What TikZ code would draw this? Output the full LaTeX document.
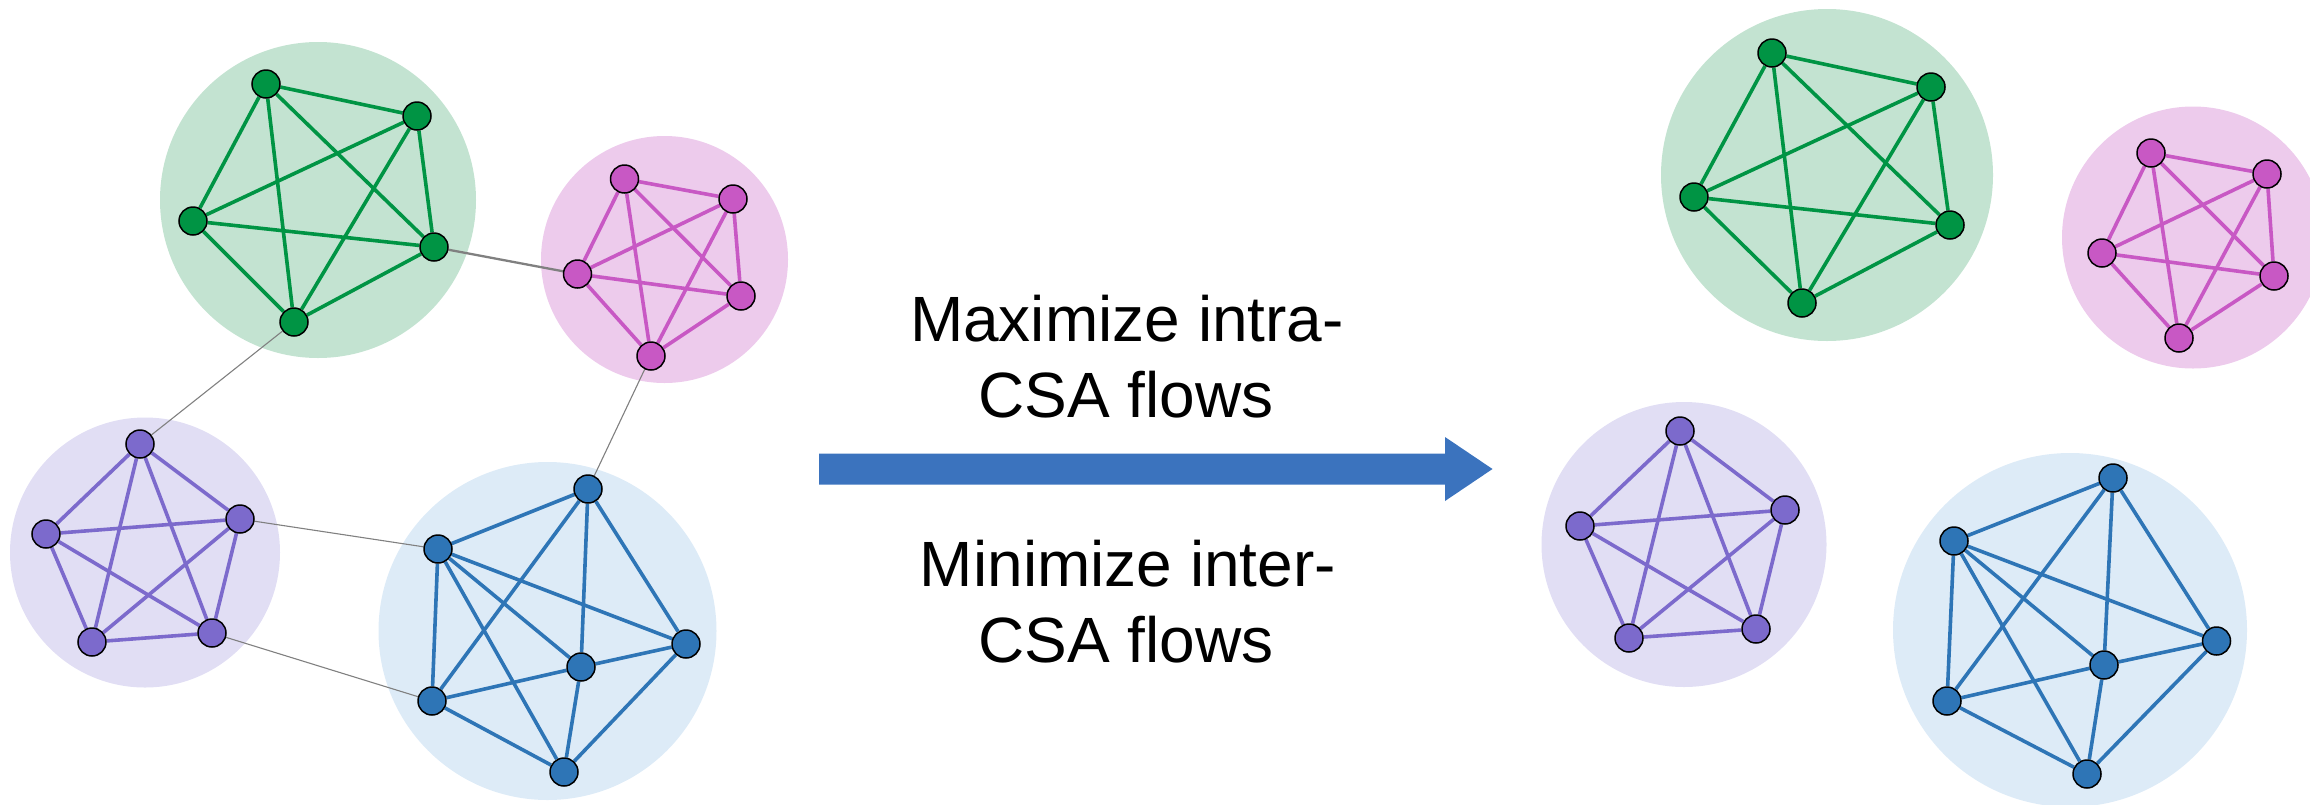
\documentclass[tikz,border=0pt]{standalone}
\usepackage{fontspec}
\setmainfont{Liberation Sans}
\definecolor{grnN}{RGB}{0,148,68}
\definecolor{grnB}{RGB}{195,227,209}
\definecolor{pnkN}{RGB}{200,88,196}
\definecolor{pnkB}{RGB}{237,203,236}
\definecolor{purN}{RGB}{124,106,204}
\definecolor{purB}{RGB}{225,222,244}
\definecolor{bluN}{RGB}{46,117,182}
\definecolor{bluB}{RGB}{221,235,247}
\definecolor{arrowC}{RGB}{59,115,190}
\definecolor{linkC}{RGB}{128,128,128}
\pgfdeclarelayer{clusterbg}
\pgfdeclarelayer{edgelayer}
\pgfsetlayers{clusterbg,edgelayer,main}
\tikzset{
  vtx/.style={circle, draw=black, line width=1.5pt, minimum size=28pt, inner sep=0pt, fill=#1},
  edge/.style={line width=3.6pt, draw=#1},
  csa/.style={fill=#1, draw=none},
  interlink/.style={draw=linkC, line width=1.1pt},
  interthick/.style={draw=linkC, line width=2.3pt},
  label/.style={font=\fontsize{64}{76}\selectfont, anchor=base, inner sep=0pt}
}
\begin{document}
\begin{tikzpicture}[x=1pt,y=-1pt]
\useasboundingbox (0,0) rectangle (2310,804);
\begin{scope}
\clip (0,0) rectangle (2310,804);

% ---------- left: clusters before partitioning ----------
\begin{pgfonlayer}{clusterbg}
  \fill[csa=grnB] (318,200) circle (158);
  \fill[csa=pnkB] (664.5,259.5) circle (123.5);
  \fill[csa=purB] (145,552.5) circle (135);
  \fill[csa=bluB] (547.5,631) circle (169);
\end{pgfonlayer}

\node[vtx=grnN] (lg1) at (266,84) {};
\node[vtx=grnN] (lg2) at (417,116) {};
\node[vtx=grnN] (lg3) at (193,221) {};
\node[vtx=grnN] (lg4) at (434,247) {};
\node[vtx=grnN] (lg5) at (294,322) {};

\node[vtx=pnkN] (lp1) at (624.5,179) {};
\node[vtx=pnkN] (lp2) at (733,199) {};
\node[vtx=pnkN] (lp3) at (577.5,274) {};
\node[vtx=pnkN] (lp4) at (741,296) {};
\node[vtx=pnkN] (lp5) at (651,356) {};

\node[vtx=purN] (lv1) at (140,444) {};
\node[vtx=purN] (lv2) at (46,534) {};
\node[vtx=purN] (lv3) at (240,519) {};
\node[vtx=purN] (lv4) at (92,642) {};
\node[vtx=purN] (lv5) at (212,633) {};

\node[vtx=bluN] (lb1) at (588,489) {};
\node[vtx=bluN] (lb2) at (438,549) {};
\node[vtx=bluN] (lb3) at (686,644) {};
\node[vtx=bluN] (lb4) at (581,667) {};
\node[vtx=bluN] (lb5) at (432,701) {};
\node[vtx=bluN] (lb6) at (564,772) {};

% ---------- right: clusters after partitioning ----------
\begin{pgfonlayer}{clusterbg}
  \fill[csa=grnB] (1827,175) circle (166);
  \fill[csa=pnkB] (2193,237.5) circle (131);
  \fill[csa=purB] (1684,544.5) circle (142.5);
  \fill[csa=bluB] (2070,630) circle (177);
\end{pgfonlayer}

\node[vtx=grnN] (rg1) at (1772,53) {};
\node[vtx=grnN] (rg2) at (1931,87) {};
\node[vtx=grnN] (rg3) at (1694,197) {};
\node[vtx=grnN] (rg4) at (1950,225) {};
\node[vtx=grnN] (rg5) at (1802,303) {};

\node[vtx=pnkN] (rp1) at (2151,153) {};
\node[vtx=pnkN] (rp2) at (2267,174) {};
\node[vtx=pnkN] (rp3) at (2102,253) {};
\node[vtx=pnkN] (rp4) at (2274,276) {};
\node[vtx=pnkN] (rp5) at (2179,338) {};

\node[vtx=purN] (rv1) at (1680,431) {};
\node[vtx=purN] (rv2) at (1580,526) {};
\node[vtx=purN] (rv3) at (1785,510) {};
\node[vtx=purN] (rv4) at (1629,638) {};
\node[vtx=purN] (rv5) at (1756,629) {};

\node[vtx=bluN] (rb1) at (2113,478) {};
\node[vtx=bluN] (rb2) at (1954,541) {};
\node[vtx=bluN] (rb3) at (2216.5,641) {};
\node[vtx=bluN] (rb4) at (2104,665) {};
\node[vtx=bluN] (rb5) at (1947,701) {};
\node[vtx=bluN] (rb6) at (2087,774) {};

% ---------- edges ----------
\begin{pgfonlayer}{edgelayer}
  \foreach \s in {l,r}{
    \foreach \a/\b in {1/2,1/3,1/4,1/5,2/3,2/4,2/5,3/4,3/5,4/5}{
      \draw[edge=grnN] (\s g\a) -- (\s g\b);
      \draw[edge=pnkN] (\s p\a) -- (\s p\b);
      \draw[edge=purN] (\s v\a) -- (\s v\b);
    }
    \foreach \a/\b in {1/2,1/3,1/4,1/5,2/3,2/4,2/5,2/6,3/4,3/6,4/5,4/6,5/6}{
      \draw[edge=bluN] (\s b\a) -- (\s b\b);
    }
  }
  % flows between clusters
  \draw[interthick] (lg4) -- (lp3);
  \draw[interlink] (lg5) -- (lv1);
  \draw[interlink] (lp5) -- (lb1);
  \draw[interlink] (lv3) -- (lb2);
  \draw[interlink] (lv5) -- (lb5);
\end{pgfonlayer}

% ---------- arrow and captions ----------
\fill[arrowC] (819,453.5) -- (1445,453.5) -- (1445,437) -- (1492.5,469)
  -- (1445,501) -- (1445,484.5) -- (819,484.5) -- cycle;

\node[label] (t1) at (1127,341) {Maximize intra-};
\node[label] (t2) at (1126,417) {CSA flows};
\node[label] (t3) at (1128,586) {Minimize inter-};
\node[label] (t4) at (1126,662) {CSA flows};
\end{scope}
\end{tikzpicture}
\end{document}
